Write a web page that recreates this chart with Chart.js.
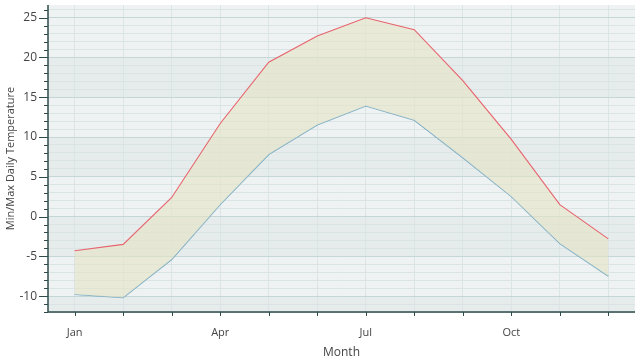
<!DOCTYPE html>
<html>
<head>
<meta charset="utf-8">
<script src="https://cdn.jsdelivr.net/npm/chart.js@4"></script>
<style>
html,body{margin:0;padding:0;background:#fff;}
#wrap{width:640px;height:357px;}
</style>
</head>
<body>
<div id="wrap"><canvas id="c" width="640" height="357"></canvas></div>
<script>
const months = ['Jan','Feb','Mar','Apr','May','Jun','Jul','Aug','Sep','Oct','Nov','Dec'];
const maxTemp = [-4.3, -3.5, 2.4, 11.7, 19.4, 22.7, 25.0, 23.5, 17.1, 9.7, 1.5, -2.8];
const minTemp = [-9.8, -10.2, -5.4, 1.5, 7.8, 11.5, 13.9, 12.1, 7.4, 2.5, -3.4, -7.5];
const xTickLabels = ['Jan','Apr','Jul','Oct'];
const darkBands = [[-12,-10],[-5,0],[5,10],[15,20]];

const FONT = '"Segoe UI", "Open Sans", "Noto Sans", sans-serif';
const AXIS = '#2f4b4b';

const bgPlugin = {
  id: 'bg',
  beforeDraw(chart) {
    const {ctx, chartArea: a, scales: {y}} = chart;
    ctx.save();
    ctx.fillStyle = '#eef2f3';
    ctx.fillRect(a.left, a.top, a.right - a.left, a.bottom - a.top);
    ctx.fillStyle = '#e6ecec';
    darkBands.forEach(([lo, hi]) => {
      const t = Math.max(y.getPixelForValue(hi), a.top);
      const b = Math.min(y.getPixelForValue(lo), a.bottom);
      ctx.fillRect(a.left, t, a.right - a.left, b - t);
    });
    ctx.restore();
  },
  afterDatasetsDraw(chart) {
    const {ctx, chartArea: a, scales: {x, y}} = chart;
    ctx.save();
    ctx.strokeStyle = AXIS;
    ctx.lineWidth = 1.5;
    ctx.beginPath();
    ctx.moveTo(a.left, a.top); ctx.lineTo(a.left, a.bottom); ctx.lineTo(a.right, a.bottom);
    ctx.stroke();
    ctx.lineWidth = 1;
    ctx.beginPath();
    y.ticks.forEach(t => {
      const p = Math.round(y.getPixelForValue(t.value)) + 0.5;
      const len = (t.value % 5 === 0) ? 9 : 4;
      ctx.moveTo(a.left - len, p); ctx.lineTo(a.left, p);
    });
    x.ticks.forEach(t => {
      const p = Math.round(x.getPixelForValue(t.value)) + 0.5;
      ctx.moveTo(p, a.bottom); ctx.lineTo(p, a.bottom + 4);
    });
    ctx.stroke();
    ctx.restore();
  }
};

new Chart(document.getElementById('c'), {
  type: 'line',
  data: {
    datasets: [
      {
        label: 'Max',
        data: maxTemp.map((v, i) => ({x: i, y: v})),
        borderColor: '#e8636d',
        borderWidth: 1.1,
        pointRadius: 0,
        tension: 0,
        fill: '+1',
        backgroundColor: 'rgba(228,228,196,0.6)'
      },
      {
        label: 'Min',
        data: minTemp.map((v, i) => ({x: i, y: v})),
        borderColor: '#6ea6c6',
        borderWidth: 1.1,
        pointRadius: 0,
        tension: 0,
        fill: false
      }
    ]
  },
  options: {
    responsive: false,
    animation: false,
    devicePixelRatio: 1,
    layout: {padding: {top: 5, right: 5, left: 0, bottom: 0}},
    plugins: {legend: {display: false}, tooltip: {enabled: false}},
    scales: {
      x: {
        type: 'linear',
        min: -0.55,
        max: 11.55,
        afterBuildTicks(s) { s.ticks = months.map((m, i) => ({value: i})); },
        afterFit(s) { s.height = 45; s.paddingLeft = 0; s.paddingRight = 0; },
        border: {display: false},
        grid: {color: '#dbe5e5', lineWidth: 1, drawTicks: false},
        ticks: {
          padding: 14,
          autoSkip: false,
          maxRotation: 0,
          color: '#444',
          font: {family: FONT, size: 11},
          callback(v) { const l = months[v]; return xTickLabels.includes(l) ? l : ''; }
        },
        title: {display: true, text: 'Month', color: '#444', font: {family: FONT, size: 12}, padding: {top: 0, bottom: -3}}
      },
      y: {
        min: -12,
        max: 26.6,
        afterBuildTicks(s) {
          const t = [];
          for (let v = -12; v <= 26; v++) t.push({value: v});
          s.ticks = t;
        },
        afterFit(s) { s.width = 48; s.paddingTop = 0; s.paddingBottom = 0; },
        border: {display: false},
        grid: {
          drawTicks: false,
          color: ctx => (ctx.tick && ctx.tick.value % 5 === 0) ? '#c4d6d6' : '#dae4e4',
          lineWidth: 1
        },
        ticks: {
          padding: 11,
          autoSkip: false,
          color: '#444',
          font: {family: FONT, size: 12},
          callback(v) { return v % 5 === 0 ? String(v) : ''; }
        },
        title: {display: true, text: 'Min/Max Daily Temperature', color: '#444', font: {family: FONT, size: 11}, padding: {top: 4, bottom: 0}}
      }
    }
  },
  plugins: [bgPlugin]
});
</script>
</body>
</html>
